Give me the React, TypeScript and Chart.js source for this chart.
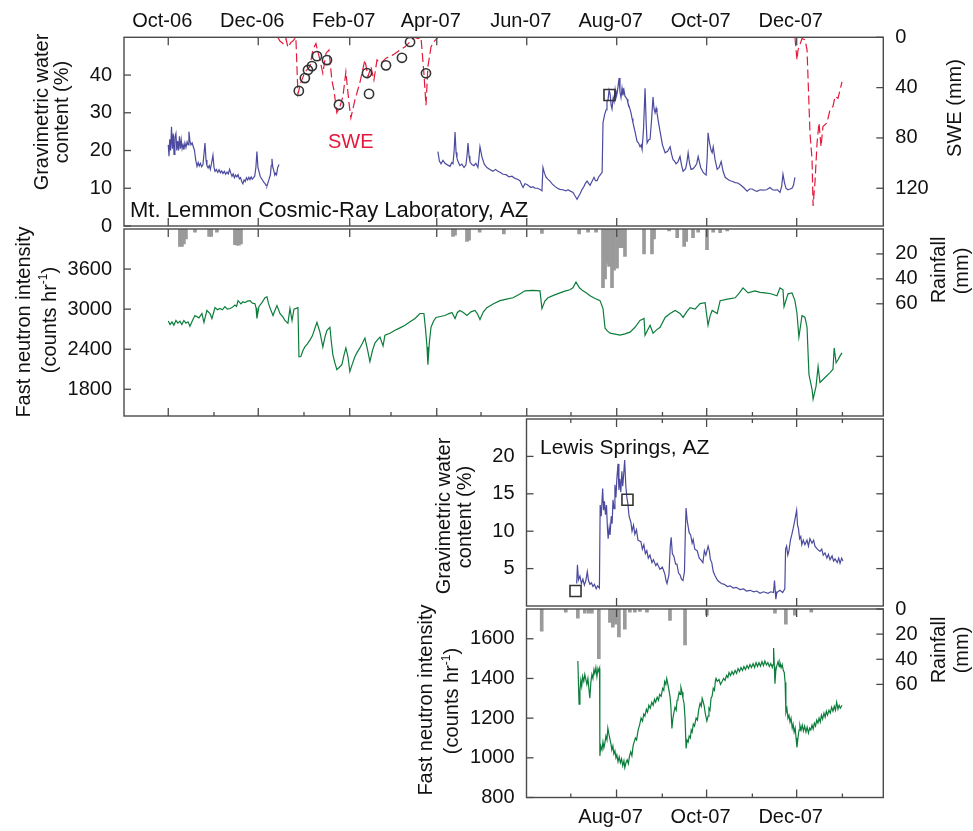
import React, { useEffect, useRef } from 'react';
import { Chart, registerables } from 'chart.js';

Chart.register(...registerables);

// ---------- time axis: days since 1 Oct 2006 ----------
const MONTH_STARTS = [-30, 0, 31, 61, 92, 123, 151, 182, 212, 243, 273, 304, 335, 365, 396, 426, 457];
const MONTH_LABELS = ['', 'Oct-06', '', 'Dec-06', '', 'Feb-07', '', 'Apr-07', '', 'Jun-07', '', 'Aug-07', '', 'Oct-07', '', 'Dec-07', ''];
const MAJOR_MONTHS = MONTH_STARTS.filter((_, i) => MONTH_LABELS[i] !== '');
const MINOR_MONTHS = MONTH_STARTS.filter((_, i) => MONTH_LABELS[i] === '');

// ---------- axis tick values ----------
const LEMMON_SM_TICKS = [0, 10, 20, 30, 40];
const SWE_TICKS = [0, 40, 80, 120];
const LEMMON_N_TICKS = [1800, 2400, 3000, 3600];
const RAIN_TICKS_TOP = [20, 40, 60];
const LEWIS_SM_TICKS = [5, 10, 15, 20];
const LEWIS_N_TICKS = [800, 1000, 1200, 1400, 1600];
const RAIN_TICKS_BOTTOM = [0, 20, 40, 60];

type Pt = [number, number];

// ---------- Mt. Lemmon gravimetric water content (%) ----------
const LEMMON_SM_A: Pt[] = [
  [0, 21.5], [0.5, 18.5], [1.0, 23], [1.6, 20], [2.2, 26.3], [2.8, 20.5], [3.4, 24.5], [3.9, 19], [4.5, 23.5],
  [5.2, 24.5], [5.8, 20], [6.4, 22.5], [7.0, 20], [7.6, 23.8], [8.2, 20.5], [8.8, 22.8], [9.4, 20.5], [10.0, 21.5],
  [10.6, 20.2], [11.3, 22], [12, 20.8], [12.8, 22.3], [13.5, 21.5], [14, 25], [14.7, 22.5], [15.4, 21.5],
  [16.2, 22], [17, 21], [17.8, 20], [18.6, 17.5], [19.5, 15.8], [20.3, 16.8], [21.0, 15.9], [21.8, 16.6],
  [22.6, 15.7], [23.5, 16.2], [24.2, 19], [24.9, 22], [25.6, 17.5], [26.2, 16], [27, 15.4], [27.8, 16],
  [28.5, 15], [29.3, 16.5], [30.3, 18.7], [31, 15.6], [31.7, 14.5], [32.6, 15], [33.5, 14.2], [34.4, 14.9],
  [35.3, 14.1], [36.2, 14.6], [37.1, 13.9], [38, 14.5], [38.9, 13.7], [39.8, 14.3], [40.7, 13.8], [41.6, 15],
  [42.4, 14], [43.2, 13.2], [44, 13.8], [44.8, 12.8], [45.6, 13.5], [46.5, 13], [47.3, 13.6], [48.2, 12.5],
  [49, 12.8], [49.8, 11.8], [50.6, 11.2], [51.4, 12.2], [52.2, 11.8], [53, 12.8], [53.8, 12.2], [54.6, 12.9],
  [55.4, 12.3], [56.2, 13], [57, 12.4], [57.8, 12.8], [58.6, 13.2], [59.4, 15.5], [60.1, 19.7], [60.8, 15.5],
  [61.5, 14.5], [62.3, 13.2], [63.1, 12.6], [63.9, 12.2], [64.7, 11.6], [65.5, 11.3], [66.3, 10.8], [66.9, 10.6],
  [67.6, 11.5], [68.4, 12.5], [69.2, 13.5], [69.8, 16], [70.3, 17.8], [70.9, 15.5], [71.5, 14.8], [72.2, 13.5],
  [72.8, 14], [73.4, 13.6], [74.2, 15.5], [75.1, 16.3],
];
const LEMMON_SM_B: Pt[] = [
  [182.8, 19.7], [183.8, 17.2], [184.9, 16.5], [186.2, 17.4], [187.6, 16.6], [189.2, 16.2], [191, 15.8],
  [192.2, 16.8], [193, 16.5], [193.8, 20], [194.4, 24.9], [195.1, 19.5], [195.7, 18], [196.7, 16.8], [197.7, 16],
  [199, 16.4], [200.5, 15.5], [201.8, 16.2], [202.6, 19], [203.2, 22], [203.9, 18.5], [204.5, 17], [205.8, 16.3],
  [207.2, 16], [208.5, 16.6], [209.9, 15.5], [210.6, 18], [211.3, 21], [212.6, 18.4], [214.2, 16.4], [216, 15.5],
  [218, 15], [220.1, 14.5], [221.8, 15], [223.5, 14.5], [225.2, 14.2], [226.9, 13.7], [229, 13.6], [231, 13],
  [233, 13.2], [235, 12.6], [236.7, 12.4], [238.4, 12], [239.5, 11], [240.5, 10.2], [241.8, 11.2], [243.2, 11],
  [244.5, 10.6], [245.9, 10.2], [247.2, 10.4], [248.6, 10], [250.3, 10], [252, 9.7], [253.3, 9.3], [254, 15.5],
  [255, 14], [256, 13], [257.3, 12.4], [258.7, 11.9], [260.4, 11.1], [262.1, 10.5], [263.8, 10], [265.5, 9.7],
  [267.5, 9.6], [269.6, 9.3], [271, 9.6], [272.3, 9.3], [274.4, 8.9], [275.7, 8], [277.1, 7.1], [278.1, 7.8],
  [279.1, 8.5], [280.4, 9.6], [281.8, 10.5], [282.8, 11.3], [283.9, 11.9], [285.9, 10.8], [287.2, 11.8],
  [288.6, 12.9], [289.6, 12], [290.7, 12], [291.7, 13], [292.7, 13.5], [294.1, 14.2], [294.7, 27.4],
  [295.8, 29.5], [296.8, 30.8], [297.4, 33], [298.1, 33.4], [298.8, 36], [299.5, 35], [300.2, 32], [300.8, 31],
  [301.6, 34], [302.2, 33], [302.9, 36], [303.5, 34], [304.2, 35], [304.9, 37], [305.6, 39.2], [306.2, 35.5],
  [306.9, 34], [307.6, 36.5], [308.2, 34.6], [308.9, 36], [309.6, 34.4], [310.3, 34], [311, 33.6], [311.6, 32.6],
  [312.6, 31.5], [313.7, 30], [314.4, 28.5], [315, 27.4], [316.4, 25], [317.8, 22.4], [318.8, 22], [319.8, 21],
  [320.6, 21.5], [321.2, 20.3], [322.2, 26], [323.2, 36.5], [324, 27], [324.6, 22], [325.6, 22.8], [326.6, 23],
  [327.6, 28], [328.6, 34.2], [329.3, 31], [330, 30], [330.7, 31.2], [331.3, 30], [332.3, 27.5], [333.4, 25],
  [335, 21.5], [336.8, 19.4], [338.5, 19.8], [340.2, 21], [341.2, 19], [342.2, 17.6], [343.2, 17.2], [344.2, 16.5],
  [345.5, 17], [346.9, 18.4], [348, 16], [349, 14.5], [350.7, 15.2], [351.6, 17], [352.4, 19.4], [353.4, 16.5],
  [354.4, 15], [355.8, 15.2], [357.1, 15.8], [358.2, 16.5], [359.2, 18.4], [360.9, 15.5], [362.6, 14.2],
  [363.6, 13.8], [364.6, 13.5], [365.3, 18], [365.9, 24.7], [366.9, 22], [368, 20], [368.7, 19.4], [369.4, 21],
  [370.7, 17.5], [372.1, 15], [373.4, 15.5], [374.8, 17.1], [376.1, 14.5], [377.5, 12.9], [379.2, 12.4],
  [380.9, 12], [382.6, 11.8], [384.3, 11.5], [386, 11.4], [387.6, 11], [390, 10.2], [392.4, 9.2], [394.1, 9.8],
  [395.8, 9.8], [397.4, 9.4], [399.1, 9.2], [401.2, 9.6], [403.2, 9.5], [405.6, 9.6], [407.9, 10.2], [409.6, 9.6],
  [411.3, 9.5], [413, 9.6], [414.7, 8.9], [415.8, 10.5], [416.7, 13.7], [417.7, 11.5], [418.7, 10], [420.1, 9.6],
  [421.5, 9.8], [422.8, 10], [423.8, 10.8], [424.8, 12.9],
];

// ---------- Mt. Lemmon SWE (mm) ----------
const LEMMON_SWE_A: Pt[] = [
  [74.3, 0], [75.7, 3], [77.8, 5], [79.8, 1], [81.1, 8], [83.2, 4], [84.5, 3], [86.5, 0], [87.9, 45], [89.9, 36],
  [92.6, 27.6], [96, 23.4], [98, 10], [100.1, 5], [102.8, 18], [104.8, 28.6], [106.9, 12.8], [108.9, 10],
  [110.9, 34], [112.3, 42], [114.3, 60], [116.4, 55], [118.4, 47], [120.4, 27.6], [122.5, 52], [123.8, 64],
  [126.5, 50], [129.9, 36], [133.3, 18], [135.4, 31.5], [137.4, 23.4], [139.4, 34], [141.5, 18], [144.2, 20.5],
  [147.6, 16.6], [152.3, 14], [157.1, 10], [160.5, 7.6], [163.9, 3.6], [166.6, 0], [169.3, 1], [171.3, 0],
  [173.3, 28.6], [174.7, 54], [176, 23.4], [178.1, 7.6], [180.1, 3.6], [182.8, 0],
];
const LEMMON_SWE_B: Pt[] = [
  [424.8, 0], [426.2, 18], [426.9, 10], [429.6, 1], [431.6, 2], [433, 10], [435, 76], [436.4, 97], [437.1, 134],
  [438.4, 115], [439.8, 84], [441.1, 68], [442.5, 87], [443.8, 71], [446.5, 68], [448.6, 57.6], [450.6, 55],
  [452, 47], [454, 48.5], [456.7, 35.5],
];
const SWE_OBSERVED: Pt[] = [
  [88.5, 42.6], [92.6, 32.4], [94.7, 26], [97.4, 22.9], [100.8, 15], [107.6, 18.1], [115.7, 53.6], [134.7, 28.4],
  [136.1, 45], [147.6, 22.3], [158.4, 16.3], [163.9, 3.7], [174.7, 28.6],
];
const LEMMON_SAMPLES: Pt[] = [[299.1, 34.7]];

// ---------- Mt. Lemmon neutron intensity (counts/hr) ----------
const LEMMON_N: Pt[] = [
  [0, 2821], [1.2, 2770], [2.5, 2810], [3.8, 2760], [5.2, 2830], [6.5, 2790], [7.9, 2820], [9.2, 2770],
  [10.6, 2830], [12, 2790], [13.4, 2810], [14.7, 2743], [16.8, 2850], [18.1, 2905], [20.8, 2870], [22.8, 2935],
  [24.2, 2800], [26.2, 2980], [28.3, 2935], [29.6, 2860], [31.7, 3023], [33.4, 2990], [35, 3010], [36.7, 2990],
  [38.4, 3038], [40, 3000], [41.8, 3010], [43.2, 3023], [45.2, 3060], [46.3, 3040], [47.3, 3127], [49.3, 3080],
  [50.6, 3110], [51.9, 3097], [53.6, 3120], [55.4, 3127], [57.1, 3090], [58.8, 3082], [59.5, 3020], [60.1, 2860],
  [61.5, 3040], [63.5, 3097], [65.6, 3170], [66.9, 3185], [67.9, 3090], [68.9, 3023], [71, 2905], [72.3, 2980],
  [73.7, 3053], [75.7, 2935], [77.8, 2880], [79.1, 2830], [81.1, 2787], [82.5, 3008], [83.9, 2830], [85.2, 3000],
  [87.9, 3023], [88.6, 2287], [89.9, 2290], [91.3, 2380], [92.6, 2434], [94.3, 2480], [96, 2537], [97.7, 2600],
  [99.4, 2714], [100.8, 2802], [102.8, 2655], [104.8, 2434], [106.2, 2580], [107.6, 2684], [109.6, 2729],
  [110.6, 2500], [111.6, 2316], [112.9, 2200], [114.3, 2095], [116, 2130], [117.7, 2169], [119, 2300],
  [120.4, 2419], [121.8, 2287], [123.1, 2065], [124.8, 2180], [126.5, 2287], [128.2, 2360], [129.9, 2419],
  [131.6, 2490], [133.3, 2566], [135, 2400], [136.7, 2213], [138.4, 2380], [140.1, 2493], [141.8, 2540],
  [143.5, 2581], [145.6, 2450], [146.9, 2610], [150.3, 2640], [153.7, 2684], [157.1, 2720], [160.5, 2758],
  [163.9, 2810], [167.3, 2860], [170.6, 2935], [173.3, 2935], [174.4, 2700], [175.4, 2434], [176, 2169],
  [177, 2500], [178.1, 2729], [179.8, 2820], [181.5, 2876], [184.5, 2890], [187.6, 2905], [190, 2930],
  [192.3, 2950], [194.4, 2860], [196, 2950], [197.7, 2980], [200, 2950], [202.5, 2905], [205.2, 2960],
  [207.9, 2980], [209.6, 2930], [211.3, 2845], [213.6, 2960], [216, 3023], [220.5, 3080], [224.9, 3127],
  [229.3, 3150], [233.7, 3170], [237.8, 3220], [241.8, 3274], [246.9, 3280], [252, 3274], [253.3, 3008],
  [255.3, 3120], [257.4, 3170], [261.5, 3210], [265.5, 3244], [268.9, 3270], [272.3, 3290], [274.3, 3320],
  [276.4, 3407], [278.7, 3320], [281.1, 3274], [283.5, 3240], [285.9, 3200], [289.3, 3160], [292.7, 3127],
  [294.7, 3008], [296.1, 2714], [297.8, 2670], [299.5, 2640], [302.9, 2625], [306.2, 2610], [309.6, 2630],
  [313, 2655], [316.4, 2729], [319.8, 2830], [322.5, 2860], [323.2, 2610], [326.6, 2758], [328.6, 2640],
  [331, 2690], [333.4, 2729], [336.8, 2876], [340.2, 2935], [343.6, 2980], [346.9, 2935], [349, 2876],
  [351.4, 2960], [353.7, 3023], [357.1, 3000], [360.5, 3082], [363.9, 3097], [365.9, 2758], [367.3, 2900],
  [368.7, 2980], [372.1, 2935], [374.1, 3127], [379.2, 3150], [384.3, 3170], [387, 3240], [389.6, 3318],
  [393, 3244], [397.7, 3274], [401.1, 3250], [404.5, 3244], [408.5, 3230], [412.6, 3200], [414.7, 3318],
  [416.7, 3289], [417.4, 3038], [420.1, 3229], [422.8, 3244], [424.8, 3127], [426.2, 2935], [427.5, 2581],
  [429.6, 2905], [431.6, 2876], [433, 2729], [434.3, 2021], [436.4, 1800], [437.1, 1653], [439.1, 1844],
  [440.5, 2139], [441.8, 1903], [445.2, 1977], [448.6, 2050], [450.6, 2100], [451.4, 2419], [452.7, 2198],
  [454, 2242], [455.4, 2300], [456.7, 2345],
];

// ---------- Mt. Lemmon rainfall (mm) ----------
const LEMMON_RAIN: Pt[] = [
  [7.9, 14], [9.3, 14], [10.6, 12], [12, 8], [18.1, 2.5], [27.7, 6], [29.1, 6], [33, 2.5], [45.2, 12.5],
  [46.6, 13], [47.9, 13], [49.3, 12], [193, 6], [194.4, 5], [202.5, 10], [203.9, 9], [211.1, 2.5], [227.5, 4],
  [253.3, 3.5], [278.5, 4], [284.6, 2.5], [290, 2.5], [294.7, 47], [296.1, 40], [297.5, 27.5], [298.8, 30],
  [300.8, 47], [302.2, 33], [304.2, 31.5], [306.2, 15], [307.6, 15], [309.6, 22], [322.5, 20], [327.9, 20],
  [329.3, 8], [339.5, 1.5], [345, 7], [349.7, 14], [351.1, 10], [355.7, 7], [359.2, 2.5], [365.2, 16.5],
  [369.4, 2.5], [374.1, 3], [378.9, 1.5],
];

// ---------- Lewis Springs gravimetric water content (%) ----------
const LEWIS_SM: Pt[] = [
  [277.0, 3.0], [277.5, 5.5], [278.2, 3.5], [279.2, 4.0], [280.2, 3.0], [281.2, 3.6], [282.2, 2.8], [283.2, 3.4],
  [284.2, 4.6], [285.0, 3.4], [286.0, 2.9], [287.0, 3.1], [288.0, 2.6], [289.0, 2.9], [290.2, 2.3], [291.2, 2.7],
  [292.4, 2.4], [292.9, 13.5], [293.6, 12.0], [294.6, 15.7], [295.2, 12.8], [295.8, 14.0], [296.5, 12.2],
  [297.2, 13.5], [297.8, 10.5], [298.3, 9.0], [299.0, 10.5], [299.6, 9.5], [300.4, 12.0], [301.0, 11.0],
  [301.6, 14.2], [302.3, 13.0], [302.9, 16.2], [303.6, 14.5], [304.2, 17.0], [305.0, 19.0], [305.6, 15.5],
  [306.2, 17.0], [306.9, 15.2], [307.6, 18.0], [308.2, 16.0], [308.9, 17.8], [309.5, 19.5], [310.3, 16.0],
  [311.0, 14.5], [311.6, 13.8], [312.5, 12.0], [313.7, 11.2], [314.5, 10.0], [315.5, 10.8], [316.4, 9.6],
  [317.5, 10.2], [318.5, 8.8], [320.5, 8.6], [321.5, 7.6], [322.5, 8.2], [323.5, 7.0], [324.5, 7.4],
  [325.5, 6.4], [326.6, 6.8], [328, 5.8], [329, 6.2], [330.6, 5.4], [331.5, 5.7], [333.4, 4.9], [335, 5.2],
  [336.7, 4.3], [337.5, 3.4], [338.2, 3.0], [339.5, 4.2], [340.4, 8.0], [341.0, 9.2], [341.8, 7.0],
  [342.9, 6.6], [344, 5.6], [344.9, 5.6], [346, 4.4], [346.9, 4.2], [348, 3.6], [349, 3.4], [350.0, 4.6],
  [350.6, 10.0], [351.1, 13.1], [351.8, 11.5], [352.5, 10.6], [353.2, 9.8], [354.2, 9.5], [355.2, 8.4],
  [355.9, 8.9], [357, 7.6], [358.6, 7.4], [360, 6.4], [361, 6.2], [362.5, 5.8], [363.5, 7.4], [364.5, 6.8],
  [366, 8.0], [366.8, 7.4], [367.6, 6.2], [368.5, 5.8], [369.5, 4.6], [370.8, 4.0], [372.5, 3.4], [375, 3.0],
  [377, 2.9], [379, 2.6], [381, 2.7], [383, 2.4], [385, 2.5], [387.6, 2.2], [390, 2.3], [392, 2.0],
  [394.4, 2.1], [397, 1.9], [399, 2.0], [401.2, 1.7], [403.5, 1.9], [406.6, 1.7], [408.5, 1.9], [410.3, 1.8],
  [411.0, 3.4], [411.5, 2.0], [411.9, 0.9], [412.6, 1.8], [414.7, 2.1], [416.5, 1.8], [418.0, 2.3],
  [418.5, 7.6], [419.2, 8.0], [420.0, 6.8], [420.8, 7.4], [421.8, 8.8], [422.8, 9.6], [423.8, 10.5],
  [424.8, 11.5], [426.0, 12.8], [426.6, 10.8], [427.2, 10.4], [428.0, 9.0], [428.8, 9.3], [429.5, 8.2],
  [430.5, 8.8], [431.6, 8.2], [433, 8.8], [434, 8.0], [435, 9.0], [436.4, 8.4], [437.5, 8.8], [438.4, 8.0],
  [440, 7.6], [441.8, 7.3], [443, 7.6], [444, 6.8], [445.2, 7.1], [446.5, 6.4], [447.5, 6.9], [448.6, 6.2],
  [450, 6.7], [451, 6.0], [452, 6.3], [453.5, 5.8], [454.5, 6.4], [455.4, 5.7], [456.5, 6.4], [457.4, 6.0],
];
const LEWIS_SAMPLES: Pt[] = [[276.2, 2.0], [311.4, 14.2]];

// ---------- Lewis Springs neutron intensity (counts/hr) ----------
const LEWIS_N: Pt[] = [
  [277.8, 1488], [278.3, 1350], [278.6, 1270], [279.2, 1340], [279.8, 1390], [280.4, 1360], [281.0, 1410],
  [281.8, 1385], [282.5, 1420], [283.2, 1395], [283.9, 1370], [284.6, 1400], [285.3, 1345], [285.9, 1300],
  [286.6, 1380], [287.3, 1420], [288.0, 1400], [288.7, 1445], [289.3, 1425], [290.0, 1455], [290.7, 1410],
  [291.4, 1450], [292.0, 1435], [292.5, 1450], [292.7, 1010], [293.3, 1060], [294.1, 1040], [294.8, 1080],
  [295.4, 1050], [296.1, 1075], [296.8, 1110], [297.5, 1090], [298.1, 1150], [298.8, 1120], [299.5, 1095],
  [300.2, 1070], [300.8, 1040], [301.5, 1060], [302.2, 1020], [302.9, 1035], [303.6, 1000], [304.2, 1015],
  [305.0, 980], [305.8, 1005], [306.6, 975], [307.4, 995], [308.2, 960], [309.0, 985], [309.6, 950],
  [310.4, 975], [311.2, 990], [312.0, 970], [312.8, 1010], [313.6, 1030], [314.4, 1010], [315.2, 1060],
  [315.9, 1080], [316.8, 1100], [317.6, 1090], [318.6, 1140], [319.6, 1165], [320.6, 1200], [321.6, 1185],
  [322.4, 1220], [323.2, 1210], [324.2, 1245], [325.0, 1230], [325.9, 1265], [326.8, 1250], [327.9, 1280],
  [328.8, 1265], [329.7, 1295], [330.5, 1280], [331.5, 1305], [332.4, 1290], [333.2, 1320], [334.2, 1310],
  [335.2, 1350], [336.0, 1340], [336.6, 1385], [337.4, 1370], [338.0, 1400], [338.8, 1370], [339.5, 1340],
  [340.2, 1310], [340.8, 1260], [341.5, 1148], [342.2, 1200], [342.9, 1230], [343.6, 1255], [344.4, 1240],
  [345.0, 1290], [345.6, 1300], [346.4, 1330], [347.0, 1320], [347.6, 1355], [348.4, 1330], [349.0, 1300],
  [349.7, 1275], [350.4, 1200], [351.1, 1047], [351.8, 1090], [352.5, 1080], [353.2, 1110], [354.0, 1100],
  [354.6, 1140], [355.2, 1130], [356.0, 1170], [356.8, 1160], [357.9, 1200], [358.8, 1190], [359.6, 1240],
  [360.6, 1275], [361.4, 1260], [362.0, 1300], [362.6, 1285], [363.4, 1260], [364.2, 1220], [365.2, 1185],
  [366.0, 1210], [366.6, 1250], [367.3, 1240], [368.0, 1300], [368.7, 1310], [369.5, 1350], [370.3, 1340],
  [371.0, 1390], [371.4, 1400], [372.2, 1385], [373.4, 1395], [374.4, 1370], [375.5, 1385], [376.5, 1400],
  [377.5, 1390], [378.5, 1415], [379.4, 1405], [380.2, 1430], [381.2, 1415], [382.2, 1435], [383.2, 1420],
  [384.3, 1440], [385.3, 1425], [386.3, 1450], [387.3, 1435], [388.3, 1455], [389.3, 1440], [390.3, 1460],
  [391.3, 1445], [392.4, 1465], [393.4, 1450], [394.4, 1470], [395.4, 1455], [396.5, 1475], [397.5, 1455],
  [398.5, 1480], [399.5, 1460], [400.5, 1480], [401.5, 1462], [402.5, 1485], [403.5, 1465], [404.5, 1488],
  [405.5, 1468], [406.5, 1480], [407.5, 1460], [408.5, 1475], [409.5, 1455], [410.0, 1470], [410.4, 1553],
  [410.9, 1460], [411.3, 1373], [411.9, 1440], [412.6, 1465], [413.4, 1485], [414.2, 1460], [414.7, 1480],
  [415.5, 1455], [416.2, 1470], [417.0, 1440], [417.6, 1430], [418.2, 1380], [418.7, 1228], [419.4, 1250],
  [420.1, 1200], [420.8, 1215], [421.5, 1180], [422.2, 1200], [423.0, 1150], [423.6, 1170], [424.3, 1130],
  [425.0, 1150], [425.6, 1100], [426.2, 1052], [426.9, 1100], [427.6, 1140], [428.2, 1165], [429.0, 1140],
  [429.8, 1165], [430.6, 1135], [431.4, 1160], [432.3, 1130], [433.1, 1155], [434.0, 1125], [434.8, 1150],
  [435.6, 1140], [436.4, 1165], [437.2, 1145], [438.0, 1175], [438.8, 1160], [439.6, 1190], [440.4, 1175],
  [441.2, 1200], [442.0, 1180], [442.8, 1215], [443.6, 1195], [444.5, 1225], [445.3, 1205], [446.1, 1235],
  [446.9, 1215], [447.9, 1240], [448.8, 1225], [449.7, 1255], [450.6, 1235], [451.5, 1260], [452.3, 1240],
  [453.1, 1280], [454.0, 1245], [454.8, 1265], [455.6, 1250], [456.7, 1265],
];

// ---------- Lewis Springs rainfall (mm) ----------
const LEWIS_RAIN: Pt[] = [
  [253.3, 17.6], [269.6, 2.6], [277.8, 7.3], [282.5, 3.4], [285.2, 3.4], [287.3, 3.4], [292, 39.6],
  [299.5, 10.6], [301.5, 14.4], [303.5, 12], [305.6, 22.3], [309.6, 16], [313, 2.5], [316.4, 2.5],
  [319.8, 2], [324.6, 2.5], [340.2, 9], [350.4, 28.5], [365.2, 5], [411.3, 3.4], [418.7, 12], [424.8, 5],
  [435.9, 2.6],
];

// ---------- styling ----------
const FONT = "'Liberation Sans', Arial, Helvetica, sans-serif";
const TXT = '#111111';
const BLUE = '#4b4a9e';
const GREEN = '#0b7d3b';
const RED = '#e4193b';
const GRAY = '#9a9a9a';
const FRAME = '#4a4a4a';
const X_MAX = 484.7;
const X_MIN_TOP = -30;
const X_MIN_BOTTOM = 243;
const W = 973;

const pts = (a: Pt[]) => a.map(([x, y]) => ({ x, y }));
const tickFont = { family: FONT, size: 20 };

function xScale(min: number, position: string, show: boolean, height: number, padding: number) {
  return {
    type: 'linear',
    min,
    max: X_MAX,
    position,
    display: show,
    offset: false,
    grid: { display: false, drawTicks: false, offset: false },
    border: { display: false },
    ticks: {
      font: tickFont,
      color: TXT,
      padding,
      labelOffset: -6,
      maxRotation: 0,
      autoSkip: false,
      callback: (v: number) => {
        if (v <= min + 0.01) return '';
        const i = MONTH_STARTS.indexOf(v);
        return i >= 0 ? MONTH_LABELS[i] : '';
      },
    },
    afterBuildTicks: (s: any) => {
      s.ticks = MONTH_STARTS.filter((v) => v >= min - 0.01 && v <= X_MAX).map((v) => ({ value: v }));
    },
    afterFit: (s: any) => {
      s.height = height;
    },
  };
}

function yScale(position: string, min: number, max: number, vals: number[], reverse: boolean, width: number, show: boolean) {
  return {
    type: 'linear',
    position,
    min,
    max,
    reverse,
    display: true,
    grid: { display: false, drawTicks: false },
    border: { display: false },
    ticks: {
      display: show,
      font: tickFont,
      color: TXT,
      padding: 12,
      autoSkip: false,
      callback: (v: number) => String(v),
    },
    afterBuildTicks: (s: any) => {
      s.ticks = vals.map((v) => ({ value: v }));
    },
    afterFit: (s: any) => {
      s.width = width;
    },
  };
}

type FrameCfg = {
  top: { major: number[]; minor: number[] };
  bottom: { major: number[]; minor: number[] };
  left: { scale: string; values: number[] };
  right: { scale: string; values: number[] };
};

function makeFrame(cfg: FrameCfg) {
  return {
    id: 'frameTicks',
    afterDatasetsDraw(chart: any) {
      const { ctx, chartArea: a, scales } = chart;
      const xs = scales.x;
      ctx.save();
      ctx.strokeStyle = FRAME;
      ctx.lineWidth = 1.3;
      const line = (x1: number, y1: number, x2: number, y2: number) => {
        ctx.beginPath();
        ctx.moveTo(x1, y1);
        ctx.lineTo(x2, y2);
        ctx.stroke();
      };
      const xt = (vals: number[], yEdge: number, dir: number, len: number) => {
        vals.forEach((v) => {
          const px = xs.getPixelForValue(v);
          if (px < a.left + 1 || px > a.right - 1) return;
          line(px, yEdge, px, yEdge + dir * len);
        });
      };
      xt(cfg.top.major, a.top, 1, 8);
      xt(cfg.top.minor, a.top, 1, 4);
      xt(cfg.bottom.major, a.bottom, -1, 8);
      xt(cfg.bottom.minor, a.bottom, -1, 4);
      const yt = (scaleId: string, vals: number[], xEdge: number, dir: number) => {
        const s = scales[scaleId];
        vals.forEach((v) => {
          const py = s.getPixelForValue(v);
          line(xEdge, py, xEdge + dir * 7, py);
        });
      };
      yt(cfg.left.scale, cfg.left.values, a.left, 1);
      yt(cfg.right.scale, cfg.right.values, a.right, -1);
      ctx.lineWidth = 1.4;
      ctx.strokeRect(a.left, a.top, a.right - a.left, a.bottom - a.top);
      ctx.restore();
    },
  };
}

type TextPart = { t: string; sup?: boolean };
type TextItem = {
  parts: TextPart[];
  x: number;
  y: number;
  size: number;
  color?: string;
  rotate?: boolean;
  align?: string;
};

function makeTexts(items: TextItem[], offsetTop: number) {
  return {
    id: 'panelTexts',
    afterDraw(chart: any) {
      const ctx = chart.ctx;
      items.forEach((it) => {
        ctx.save();
        ctx.fillStyle = it.color || TXT;
        ctx.textBaseline = 'alphabetic';
        ctx.textAlign = 'left';
        const font = (sup?: boolean) => `${sup ? Math.round(it.size * 0.62) : it.size}px ${FONT}`;
        let total = 0;
        const widths = it.parts.map((p) => {
          ctx.font = font(p.sup);
          const w = ctx.measureText(p.t).width;
          total += w;
          return w;
        });
        ctx.translate(it.x, it.y - offsetTop);
        if (it.rotate) ctx.rotate(-Math.PI / 2);
        let cx = it.align === 'left' ? 0 : -total / 2;
        it.parts.forEach((p, i) => {
          ctx.font = font(p.sup);
          ctx.fillText(p.t, cx, p.sup ? -it.size * 0.42 : 0);
          cx += widths[i];
        });
        ctx.restore();
      });
    },
  };
}

const txt = (t: string): TextPart[] => [{ t }];
const COUNTS: TextPart[] = [{ t: '(counts hr' }, { t: '-1', sup: true }, { t: ')' }];

const baseOptions = (padding: any, scales: any) => ({
  responsive: false,
  maintainAspectRatio: false,
  animation: false,
  layout: { padding },
  plugins: { legend: { display: false }, tooltip: { enabled: false } },
  elements: { point: { radius: 0 }, line: { tension: 0 } },
  scales,
});

const lineDs = (data: Pt[], color: string, yAxisID: string, extra: any = {}) => ({
  type: 'line',
  data: pts(data),
  borderColor: color,
  backgroundColor: color,
  borderWidth: 1.2,
  pointRadius: 0,
  fill: false,
  yAxisID,
  ...extra,
});

const barDs = (data: Pt[]) => ({
  type: 'bar',
  data: pts(data),
  backgroundColor: GRAY,
  borderWidth: 0,
  barThickness: 3,
  grouped: false,
  yAxisID: 'rain',
});

const markerDs = (data: Pt[], style: string, radius: number, yAxisID: string) => ({
  type: 'scatter',
  data: pts(data),
  showLine: false,
  pointStyle: style,
  pointRadius: radius,
  pointBorderColor: '#333333',
  pointBackgroundColor: 'rgba(0,0,0,0)',
  pointBorderWidth: 1.6,
  borderColor: '#333333',
  backgroundColor: 'rgba(0,0,0,0)',
  yAxisID,
});

const PANELS = [
  { top: 0, height: 250 },
  { top: 205, height: 235 },
  { top: 395, height: 235 },
  { top: 585, height: 246 },
];

export default function App() {
  const r0 = useRef<HTMLCanvasElement>(null);
  const r1 = useRef<HTMLCanvasElement>(null);
  const r2 = useRef<HTMLCanvasElement>(null);
  const r3 = useRef<HTMLCanvasElement>(null);

  useEffect(() => {
    Chart.defaults.font.family = FONT;
    const charts: Chart[] = [];

    // Panel 1: Mt. Lemmon water content + SWE
    charts.push(
      new Chart(r0.current as HTMLCanvasElement, {
        type: 'line',
        data: {
          datasets: [
            markerDs(SWE_OBSERVED, 'circle', 4.6, 'swe'),
            markerDs(LEMMON_SAMPLES, 'rect', 7.8, 'y'),
            lineDs(LEMMON_SWE_A, RED, 'swe', { borderDash: [9, 4] }),
            lineDs(LEMMON_SWE_B, RED, 'swe', { borderDash: [9, 4] }),
            lineDs(LEMMON_SM_A, BLUE, 'y'),
            lineDs(LEMMON_SM_B, BLUE, 'y'),
          ] as any,
        },
        options: baseOptions(
          { top: 0, bottom: 23, left: 0, right: 0 },
          {
            x: xScale(X_MIN_TOP, 'top', true, 37.3, 4),
            y: yScale('left', 0, 50, LEMMON_SM_TICKS, false, 124, true),
            swe: yScale('right', 0, 150, SWE_TICKS, true, 89.7, true),
          }
        ) as any,
        plugins: [
          makeFrame({
            top: { major: MAJOR_MONTHS, minor: [] },
            bottom: { major: MAJOR_MONTHS, minor: [] },
            left: { scale: 'y', values: LEMMON_SM_TICKS },
            right: { scale: 'swe', values: SWE_TICKS },
          }),
          makeTexts(
            [
              { parts: txt('Gravimetric water'), x: 48, y: 112, size: 20, rotate: true },
              { parts: txt('content (%)'), x: 68, y: 112, size: 20, rotate: true },
              { parts: txt('SWE (mm)'), x: 961, y: 108, size: 20, rotate: true },
              { parts: txt('Mt. Lemmon Cosmic-Ray Laboratory, AZ'), x: 130, y: 217, size: 22, align: 'left' },
              { parts: txt('SWE'), x: 328, y: 148, size: 20, align: 'left', color: RED },
            ],
            PANELS[0].top
          ),
        ] as any,
      })
    );

    // Panel 2: Mt. Lemmon neutron + rain
    charts.push(
      new Chart(r1.current as HTMLCanvasElement, {
        type: 'line',
        data: {
          datasets: [lineDs(LEMMON_N, GREEN, 'y'), barDs(LEMMON_RAIN)] as any,
        },
        options: baseOptions(
          { top: 22, bottom: 23.3, left: 0, right: 0 },
          {
            x: xScale(X_MIN_TOP, 'bottom', false, 0, 0),
            y: yScale('left', 1400, 4200, LEMMON_N_TICKS, false, 124, true),
            rain: yScale('right', 0, 150, RAIN_TICKS_TOP, true, 89.7, true),
          }
        ) as any,
        plugins: [
          makeFrame({
            top: { major: MAJOR_MONTHS, minor: [] },
            bottom: { major: MAJOR_MONTHS, minor: MINOR_MONTHS },
            left: { scale: 'y', values: LEMMON_N_TICKS },
            right: { scale: 'rain', values: RAIN_TICKS_TOP },
          }),
          makeTexts(
            [
              { parts: txt('Fast neutron intensity'), x: 29.5, y: 322, size: 20, rotate: true },
              { parts: COUNTS, x: 55.5, y: 320, size: 20, rotate: true },
              { parts: txt('Rainfall'), x: 945, y: 270, size: 20, rotate: true },
              { parts: txt('(mm)'), x: 968, y: 271, size: 20, rotate: true },
            ],
            PANELS[1].top
          ),
        ] as any,
      })
    );

    // Panel 3: Lewis Springs water content
    charts.push(
      new Chart(r2.current as HTMLCanvasElement, {
        type: 'line',
        data: {
          datasets: [markerDs(LEWIS_SAMPLES, 'rect', 7.8, 'y'), lineDs(LEWIS_SM, BLUE, 'y')] as any,
        },
        options: baseOptions(
          { top: 21.7, bottom: 22.5, left: 0, right: 89.7 },
          {
            x: xScale(X_MIN_BOTTOM, 'bottom', false, 0, 0),
            y: yScale('left', 0, 25, LEWIS_SM_TICKS, false, 526.5, true),
          }
        ) as any,
        plugins: [
          makeFrame({
            top: { major: MAJOR_MONTHS, minor: MINOR_MONTHS },
            bottom: { major: MAJOR_MONTHS, minor: [] },
            left: { scale: 'y', values: LEWIS_SM_TICKS },
            right: { scale: 'y', values: LEWIS_SM_TICKS },
          }),
          makeTexts(
            [
              { parts: txt('Gravimetric water'), x: 450, y: 516, size: 20, rotate: true },
              { parts: txt('content (%)'), x: 471, y: 517, size: 20, rotate: true },
              { parts: txt('Lewis Springs, AZ'), x: 540, y: 454, size: 21, align: 'left' },
            ],
            PANELS[2].top
          ),
        ] as any,
      })
    );

    // Panel 4: Lewis Springs neutron + rain
    charts.push(
      new Chart(r3.current as HTMLCanvasElement, {
        type: 'line',
        data: {
          datasets: [lineDs(LEWIS_N, GREEN, 'y'), barDs(LEWIS_RAIN)] as any,
        },
        options: baseOptions(
          { top: 22.5, bottom: 0, left: 0, right: 0 },
          {
            x: xScale(X_MIN_BOTTOM, 'bottom', true, 33.5, 8),
            y: yScale('left', 800, 1750, LEWIS_N_TICKS, false, 526.5, true),
            rain: yScale('right', 0, 150, RAIN_TICKS_BOTTOM, true, 89.7, true),
          }
        ) as any,
        plugins: [
          makeFrame({
            top: { major: MAJOR_MONTHS, minor: [] },
            bottom: { major: MAJOR_MONTHS, minor: MINOR_MONTHS },
            left: { scale: 'y', values: LEWIS_N_TICKS },
            right: { scale: 'rain', values: RAIN_TICKS_BOTTOM },
          }),
          makeTexts(
            [
              { parts: txt('Fast neutron intensity'), x: 432, y: 700, size: 20, rotate: true },
              { parts: COUNTS, x: 458, y: 701, size: 20, rotate: true },
              { parts: txt('Rainfall'), x: 945, y: 650, size: 20, rotate: true },
              { parts: txt('(mm)'), x: 968, y: 650, size: 20, rotate: true },
            ],
            PANELS[3].top
          ),
        ] as any,
      })
    );

    return () => charts.forEach((c) => c.destroy());
  }, []);

  const refs = [r0, r1, r2, r3];
  return (
    <div style={{ position: 'absolute', left: 0, top: 0, width: W, height: 831, background: '#ffffff', overflow: 'hidden' }}>
      {PANELS.map((p, i) => (
        <canvas
          key={i}
          ref={refs[i]}
          width={W}
          height={p.height}
          style={{ position: 'absolute', left: 0, top: p.top, width: W, height: p.height }}
        />
      ))}
    </div>
  );
}
